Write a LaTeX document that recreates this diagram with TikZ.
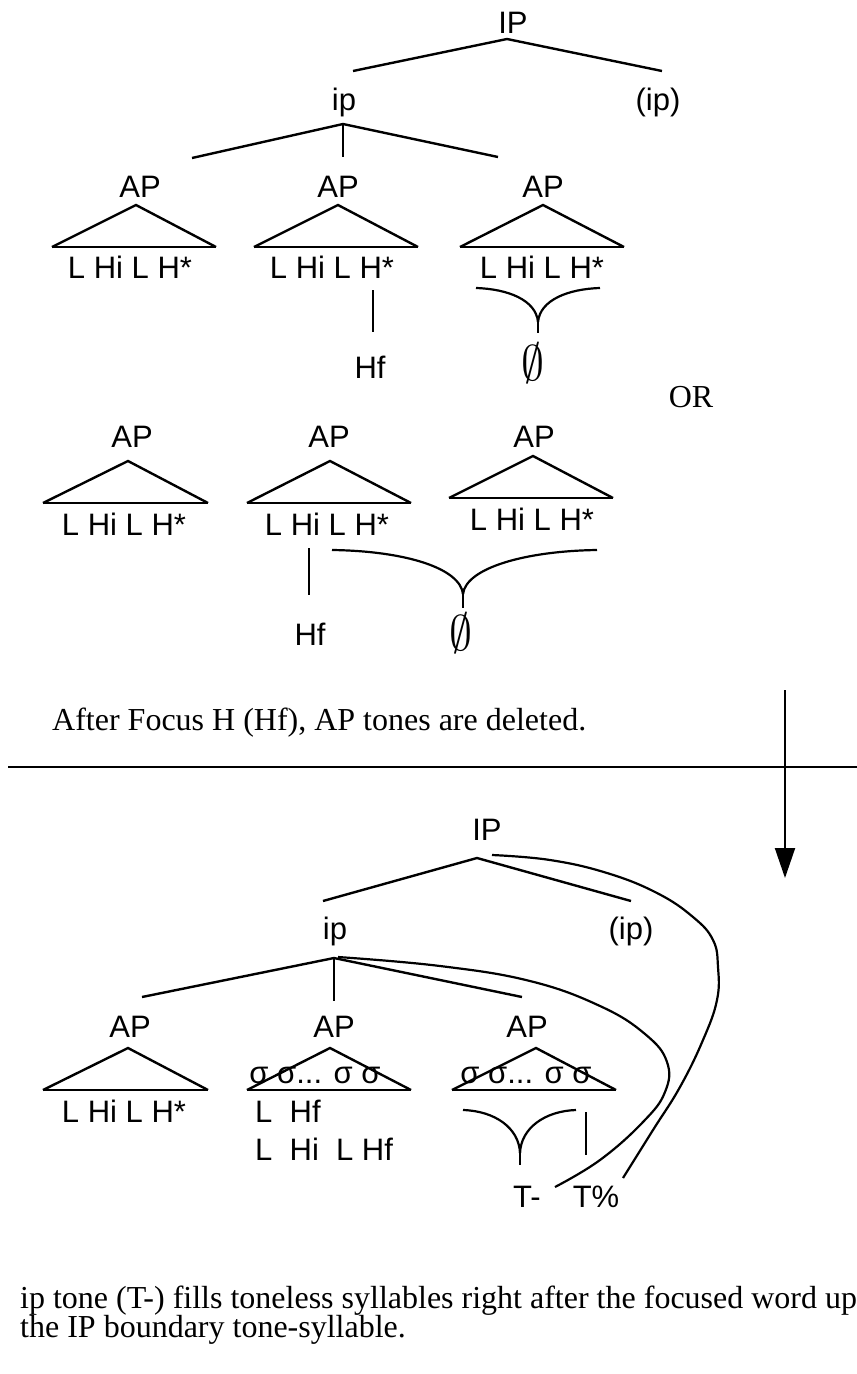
\documentclass[tikz,border=0pt]{standalone}
\usepackage{fontspec}
\setmainfont{Liberation Serif}
\newfontfamily\arialf{Liberation Sans}
\usetikzlibrary{arrows.meta}
\begin{document}
\begin{tikzpicture}[x=1pt,y=-1pt,
  lab/.style={font=\arialf\fontsize{31}{31}\selectfont, inner sep=0pt, anchor=base},
  labw/.style={lab, anchor=base west},
  tim/.style={font=\fontsize{32}{32}\selectfont, inner sep=0pt, anchor=base west},
  branch/.style={line width=2.4pt},
  tri/.style={line width=2.4pt},
  base/.style={line width=2.8pt},
  assoc/.style={line width=2pt},
  curv/.style={line width=2.2pt},
  empt/.style={inner sep=0pt}]
\useasboundingbox (0,0) rectangle (857,1374);

%% ---------- top tree ----------
\node[lab] (IP1) at (513,33) {IP};
\node[lab] (ip1) at (344,110) {ip};
\node[lab] (ipp1) at (658,110) {(ip)};
\coordinate (IP1a) at (507,39);
\coordinate (IP1l) at (353,71);
\coordinate (IP1r) at (662,71);
\draw[branch] (IP1l) -- (IP1a) -- (IP1r);
\coordinate (ip1a) at (343,124);
\coordinate (ip1l) at (192,158);
\coordinate (ip1m) at (343,157);
\coordinate (ip1r) at (498,157);
\draw[branch] (ip1l) -- (ip1a) -- (ip1r);
\draw[assoc] (ip1a) -- (ip1m);

\node[lab] (AP1) at (140,197) {AP};
\node[lab] (AP2) at (338,197) {AP};
\node[lab] (AP3) at (543,197) {AP};
\coordinate (t1a) at (136,205); \coordinate (t1l) at (52,247); \coordinate (t1r) at (216,247);
\coordinate (t2a) at (338,205); \coordinate (t2l) at (254,247); \coordinate (t2r) at (418,247);
\coordinate (t3a) at (543,205); \coordinate (t3l) at (460,247); \coordinate (t3r) at (624,247);
\draw[tri] (t1l) -- (t1a) -- (t1r); \draw[base] (t1l) -- (t1r);
\draw[tri] (t2l) -- (t2a) -- (t2r); \draw[base] (t2l) -- (t2r);
\draw[tri] (t3l) -- (t3a) -- (t3r); \draw[base] (t3l) -- (t3r);
\node[lab] (L1) at (130,278) {L Hi L H*};
\node[lab] (L2) at (332,278) {L Hi L H*};
\node[lab] (L3) at (542,278) {L Hi L H*};

\coordinate (v2t) at (373,290); \coordinate (v2b) at (373,332);
\draw[assoc] (v2t) -- (v2b);
\node[lab] (Hf1) at (370,378) {Hf};

\coordinate (c3l) at (476,288); \coordinate (c3r) at (600,288);
\coordinate (c3m) at (538,322); \coordinate (c3b) at (538,333);
\draw[curv] (c3l) .. controls (508,289) and (536,300) .. (c3m);
\draw[curv] (c3r) .. controls (568,289) and (540,300) .. (c3m);
\draw[curv] (c3m) -- (c3b);
\node[empt] (E1) at (533,363) {\scalebox{4.6}[5.0]{$\emptyset$}};

\node[font=\fontsize{32}{32}\selectfont, inner sep=0pt, anchor=base] (OR) at (691,407) {OR};

%% ---------- alternative ----------
\node[lab] (AP4) at (132,447) {AP};
\node[lab] (AP5) at (329,447) {AP};
\node[lab] (AP6) at (534,447) {AP};
\coordinate (t4a) at (128,461); \coordinate (t4l) at (43,503); \coordinate (t4r) at (208,503);
\coordinate (t5a) at (330,461); \coordinate (t5l) at (247,503); \coordinate (t5r) at (411,503);
\coordinate (t6a) at (533,456); \coordinate (t6l) at (449,498); \coordinate (t6r) at (613,498);
\draw[tri] (t4l) -- (t4a) -- (t4r); \draw[base] (t4l) -- (t4r);
\draw[tri] (t5l) -- (t5a) -- (t5r); \draw[base] (t5l) -- (t5r);
\draw[tri] (t6l) -- (t6a) -- (t6r); \draw[base] (t6l) -- (t6r);
\node[lab] (L4) at (124,535) {L Hi L H*};
\node[lab] (L5) at (327,535) {L Hi L H*};
\node[lab] (L6) at (532,530) {L Hi L H*};

\coordinate (v5t) at (309,548); \coordinate (v5b) at (309,595);
\draw[assoc] (v5t) -- (v5b);
\node[lab] (Hf2) at (310,645) {Hf};

\coordinate (c6l) at (332,550); \coordinate (c6r) at (597,550);
\coordinate (c6m) at (463,594); \coordinate (c6b) at (463,608);
\draw[curv] (c6l) .. controls (405,551) and (460,568) .. (c6m);
\draw[curv] (c6r) .. controls (525,551) and (466,568) .. (c6m);
\draw[curv] (c6m) -- (c6b);
\node[empt] (E2) at (461,633) {\scalebox{4.6}[5.0]{$\emptyset$}};

\node[tim] (note1) at (52,730) {After Focus H (Hf), AP tones are deleted.};

%% ---------- divider and arrow ----------
\coordinate (divl) at (8,767); \coordinate (divr) at (857,767);
\draw[line width=2.8pt] (divl) -- (divr);
\coordinate (arrt) at (785,690); \coordinate (arrb) at (785,878);
\draw[line width=2pt, -{Triangle[length=30pt,width=20pt]}] (arrt) -- (arrb);

%% ---------- bottom tree ----------
\node[lab] (IP2) at (487,840) {IP};
\node[lab] (ip2) at (335,939) {ip};
\node[lab] (ipp2) at (631,939) {(ip)};
\coordinate (IP2a) at (477,858);
\coordinate (IP2l) at (323,901);
\coordinate (IP2r) at (631,901);
\draw[branch] (IP2l) -- (IP2a) -- (IP2r);
\coordinate (ip2a) at (334,958);
\coordinate (ip2l) at (142,997);
\coordinate (ip2m) at (334,1001);
\coordinate (ip2r) at (522,997);
\draw[branch] (ip2l) -- (ip2a) -- (ip2r);
\draw[assoc] (ip2a) -- (ip2m);

\node[lab] (AP7) at (130,1037) {AP};
\node[lab] (AP8) at (334,1037) {AP};
\node[lab] (AP9) at (527,1037) {AP};
\coordinate (t7a) at (128,1048); \coordinate (t7l) at (43,1090); \coordinate (t7r) at (208,1090);
\coordinate (t8a) at (330,1048); \coordinate (t8l) at (247,1090); \coordinate (t8r) at (411,1090);
\coordinate (t9a) at (536,1048); \coordinate (t9l) at (452,1090); \coordinate (t9r) at (616,1090);
\draw[tri] (t7l) -- (t7a) -- (t7r); \draw[base] (t7l) -- (t7r);
\draw[tri] (t8l) -- (t8a) -- (t8r); \draw[base] (t8l) -- (t8r);
\draw[tri] (t9l) -- (t9a) -- (t9r); \draw[base] (t9l) -- (t9r);
\node[lab] (S8) at (315,1083) {σ σ... σ σ};
\node[lab] (S9) at (526,1083) {σ σ... σ σ};
\node[lab] (L7) at (124,1122) {L Hi L H*};
\node[labw] (L8a) at (255,1122) {L\ \ Hf};
\node[labw] (L8b) at (255,1160) {L\ \ Hi\ \ L Hf};

\coordinate (c9l) at (463,1110); \coordinate (c9r) at (576,1110);
\coordinate (c9m) at (520,1153); \coordinate (c9b) at (520,1165);
\draw[curv] (c9l) .. controls (495,1111) and (519,1128) .. (c9m);
\draw[curv] (c9r) .. controls (545,1111) and (521,1128) .. (c9m);
\draw[curv] (c9m) -- (c9b);
\coordinate (v9t) at (586,1112); \coordinate (v9b) at (586,1155);
\draw[assoc] (v9t) -- (v9b);
\node[lab] (Tm) at (527,1207) {T-};
\node[lab] (Tp) at (596,1207) {T\%};

\coordinate (cAs) at (338,957); \coordinate (cAe) at (555,1187);
\coordinate (cBs) at (492,855); \coordinate (cBe) at (623,1178);
\draw[curv] plot[smooth, tension=0.7] coordinates {(cAs) (440,966) (530,981) (600,1006) (645,1034) (667,1062) (665,1092) (643,1122) (600,1160) (cAe)};
\draw[curv] plot[smooth, tension=0.7] coordinates {(cBs) (550,860) (607,873) (657,893) (693,917) (713,940) (718,967) (717,1000) (703,1040) (680,1087) (653,1130) (cBe)};

\node[tim] (note2a) at (20,1308) {ip tone (T-) fills toneless syllables right after the focused word up};
\node[tim] (note2b) at (20,1337) {the IP boundary tone-syllable.};
\end{tikzpicture}
\end{document}
